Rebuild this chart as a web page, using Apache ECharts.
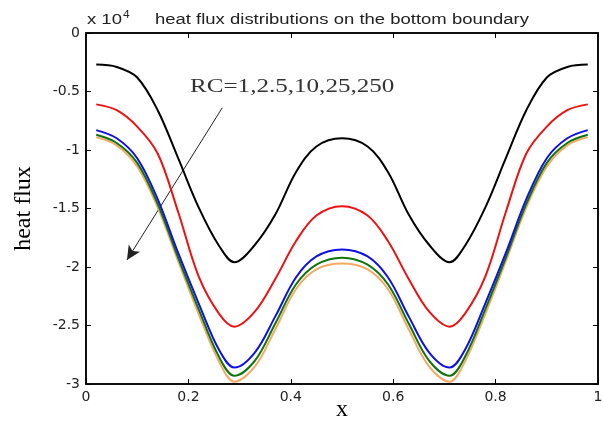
<!DOCTYPE html>
<html><head><meta charset="utf-8">
<script src="https://cdn.jsdelivr.net/npm/echarts@6/dist/echarts.min.js"></script>
<style>html,body{margin:0;padding:0;background:#fff}#c{width:603px;height:425px}</style>
</head><body><div id="c"></div>
<script>
// x positions along the bottom boundary
const xs = [0.02,0.06,0.10,0.14,0.18,0.22,0.26,0.29,0.33,0.37,0.41,0.45,0.50,0.55,0.59,0.63,0.67,0.71,0.74,0.78,0.82,0.86,0.90,0.94,0.98];
// heat flux (x 10^4)
const rc1   = [-0.27,-0.29,-0.38,-0.66,-1.07,-1.49,-1.82,-1.96,-1.81,-1.55,-1.19,-0.97,-0.90,-0.97,-1.19,-1.55,-1.81,-1.96,-1.82,-1.49,-1.07,-0.66,-0.38,-0.29,-0.27];
const rc2_5 = [-0.61,-0.66,-0.80,-1.03,-1.53,-2.08,-2.40,-2.51,-2.38,-2.10,-1.78,-1.56,-1.48,-1.56,-1.78,-2.10,-2.38,-2.51,-2.40,-2.08,-1.53,-1.03,-0.80,-0.66,-0.61];
const rc10  = [-0.83,-0.90,-1.07,-1.42,-1.88,-2.31,-2.71,-2.86,-2.73,-2.42,-2.09,-1.91,-1.85,-1.91,-2.09,-2.42,-2.73,-2.86,-2.71,-2.31,-1.88,-1.42,-1.07,-0.90,-0.83];
const rc25  = [-0.87,-0.94,-1.11,-1.46,-1.92,-2.36,-2.77,-2.93,-2.80,-2.48,-2.15,-1.98,-1.92,-1.98,-2.15,-2.48,-2.80,-2.93,-2.77,-2.36,-1.92,-1.46,-1.11,-0.94,-0.87];
const rc250 = [-0.89,-0.96,-1.14,-1.49,-1.95,-2.40,-2.81,-2.98,-2.85,-2.53,-2.19,-2.02,-1.97,-2.02,-2.19,-2.53,-2.85,-2.98,-2.81,-2.40,-1.95,-1.49,-1.14,-0.96,-0.89];
const xTicks = [0,0.2,0.4,0.6,0.8,1];
const yTicks = [0,-0.5,-1,-1.5,-2,-2.5,-3];
// annotation arrow (data coords)
const arrowFrom = [0.266,-0.64];
const arrowTo = [0.08,-1.94];

const names = ['RC=1','RC=2.5','RC=10','RC=25','RC=250'];
const vals = [rc1,rc2_5,rc10,rc25,rc250];
const colors = ['#000000','#ee1111','#1010e6','#0f740f','#f2aa66'];

const chart = echarts.init(document.getElementById('c'));
const series = vals.map((v,i)=>({
  name:names[i], type:'line', data:xs.map((x,j)=>[x,v[j]]),
  showSymbol:false, smooth:0.35, lineStyle:{color:colors[i],width:2}, z:10-i, silent:true
}));
series.push({
  type:'line', data:[], silent:true,
  markLine:{symbol:['none','arrow'], symbolSize:[10,14], silent:true, label:{show:false},
    lineStyle:{color:'#222',width:1,type:'solid'},
    data:[[{coord:arrowFrom},{coord:arrowTo}]]}
});
const axLabel = {color:'#222', fontFamily:'DejaVu Sans', fontSize:14};
const line = {show:true,onZero:false,lineStyle:{color:'#000',width:1.5}};
const tick = {show:true,inside:true,length:5,lineStyle:{color:'#000'}};
chart.setOption({
  animation:false,
  grid:{left:86,right:5,top:33,bottom:41,outerBoundsMode:'none',containLabel:false,
    show:true,borderColor:'#000',borderWidth:1.5,backgroundColor:'transparent'},
  xAxis:[{type:'value',min:0,max:1,interval:0.2,
    axisLine:line, axisTick:tick, splitLine:{show:false},
    axisLabel:Object.assign({margin:6,formatter:v=>String(+v.toFixed(1))},axLabel),
    name:'x',nameLocation:'middle',nameGap:14,nameMoveOverlap:false,
    nameTextStyle:{fontFamily:'Liberation Serif, Times New Roman',fontSize:24,color:'#000'}},
   {type:'value',min:0,max:1,interval:0.2,position:'top',
    axisLine:line, axisTick:tick, axisLabel:{show:false},splitLine:{show:false}}],
  yAxis:[{type:'value',min:-3,max:0,interval:0.5,
    axisLine:line, axisTick:tick, splitLine:{show:false},
    axisLabel:Object.assign({margin:6,formatter:v=>String(+v.toFixed(1))},axLabel),
    name:'heat flux',nameLocation:'middle',nameGap:50,nameRotate:90,nameMoveOverlap:false,
    nameTextStyle:{fontFamily:'Liberation Serif, Times New Roman',fontSize:24,color:'#000'}},
   {type:'value',min:-3,max:0,interval:0.5,position:'right',
    axisLine:line, axisTick:tick, axisLabel:{show:false},splitLine:{show:false}}],
  graphic:[
    {type:'text',x:87,y:20,scaleX:1.32,style:{text:'x 10',fontFamily:'Liberation Sans, Arial',fontSize:14,fill:'#222',verticalAlign:'middle'}},
    {type:'text',x:123,y:15,scaleX:1.2,style:{text:'4',fontFamily:'Liberation Sans, Arial',fontSize:10,fill:'#222',verticalAlign:'middle'}},
    {type:'text',x:155,y:20,scaleX:1.32,style:{text:'heat flux distributions on the bottom boundary',fontFamily:'Liberation Sans, Arial',fontSize:14,fill:'#222',verticalAlign:'middle'}},
    {type:'text',x:190,y:87,scaleX:1.32,style:{text:'RC=1,2.5,10,25,250',fontFamily:'Liberation Serif, Times New Roman',fontSize:19,fill:'#333',verticalAlign:'middle'}}
  ],
  series:series
});
</script></body></html>
